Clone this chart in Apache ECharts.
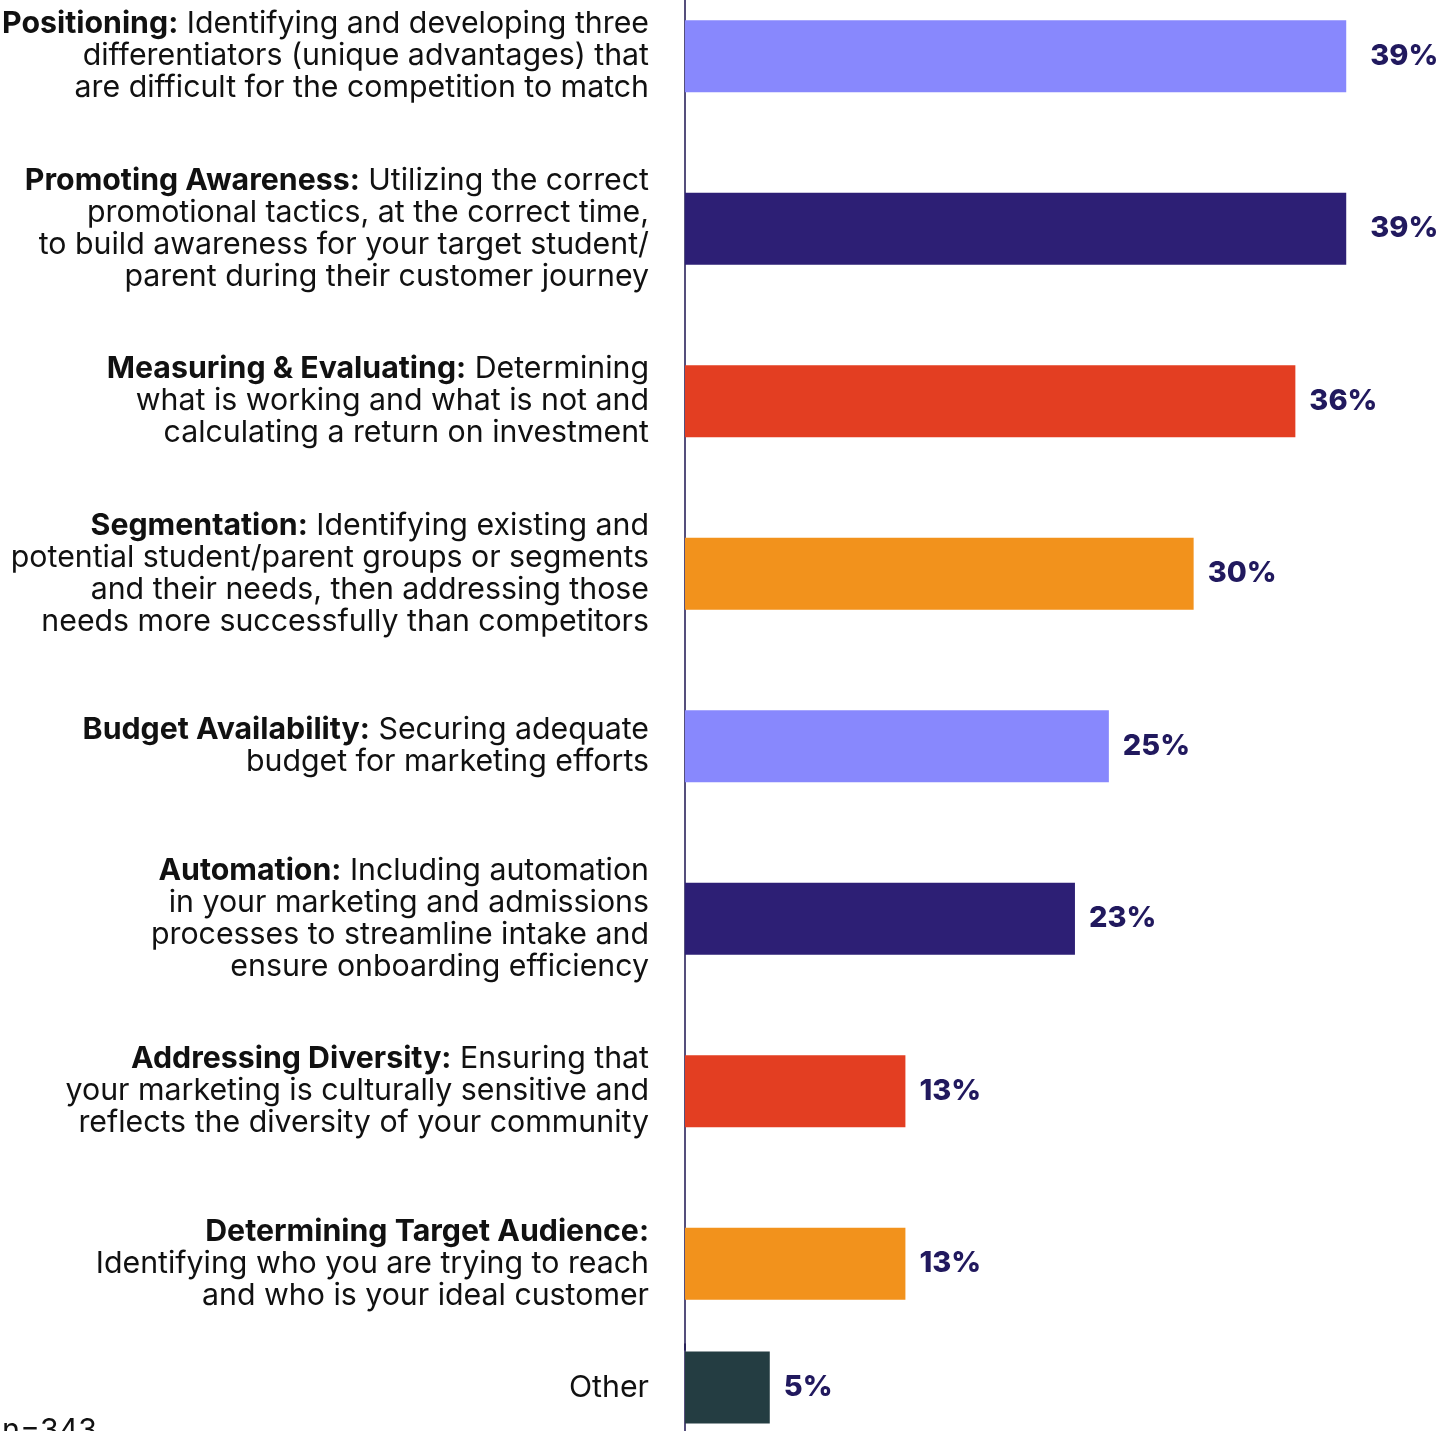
<!DOCTYPE html>
<html>
<head>
<meta charset="utf-8">
<script src="https://cdn.jsdelivr.net/npm/echarts@6/dist/echarts.min.js"></script>
<style>
  html, body { margin: 0; padding: 0; background: #ffffff; }
  #chart { width: 1440px; height: 1431px; }
</style>
</head>
<body>
<div id="chart"></div>
<script>
// Challenge headings and their descriptions (one entry per line of text)
const headings = [
  'Positioning:',
  'Promoting Awareness:',
  'Measuring & Evaluating:',
  'Segmentation:',
  'Budget Availability:',
  'Automation:',
  'Addressing Diversity:',
  'Determining Target Audience:'
];
const descriptions = [
  [' Identifying and developing three', 'differentiators (unique advantages) that', 'are difficult for the competition to match'],
  [' Utilizing the correct', 'promotional tactics, at the correct time,', 'to build awareness for your target student/', 'parent during their customer journey'],
  [' Determining', 'what is working and what is not and', 'calculating a return on investment'],
  [' Identifying existing and', 'potential student/parent groups or segments', 'and their needs, then addressing those', 'needs more successfully than competitors'],
  [' Securing adequate', 'budget for marketing efforts'],
  [' Including automation', 'in your marketing and admissions', 'processes to streamline intake and', 'ensure onboarding efficiency'],
  [' Ensuring that', 'your marketing is culturally sensitive and', 'reflects the diversity of your community'],
  ['', 'Identifying who you are trying to reach', 'and who is your ideal customer']
];
// Share of respondents (%)
const values = [39, 39, 36, 30, 25, 23, 13, 13];
const otherCategory = 'Other';
const otherValue = 5;
const palette = ['#8888fd', '#2d1f75', '#e33e22', '#f2921c'];
const otherColor = '#243d42';
const sampleNote = 'n=343';

const LABEL_FONT = 'Inter, "Liberation Sans", sans-serif';
const VALUE_FONT = 'Inter, "Liberation Sans", sans-serif';
const AXIS_COLOR = '#1c1450';
const TEXT_COLOR = '#111111';
const LABEL_SIZE = 30.3;

const categories = headings.map((h, i) => {
  const d = descriptions[i];
  const first = d[0] ? '{b|' + h + '}{n|' + d[0] + '}' : '{b|' + h + '}';
  return [first].concat(d.slice(1).map(l => '{n|' + l + '}')).join('\n');
});

const richStyles = {
  b: { fontFamily: LABEL_FONT, fontSize: LABEL_SIZE, fontWeight: 'bold', color: TEXT_COLOR, lineHeight: 32 },
  n: { fontFamily: LABEL_FONT, fontSize: LABEL_SIZE, fontWeight: 'normal', color: TEXT_COLOR, lineHeight: 32 }
};

const xMax = 44;
const valueLabel = {
  show: true,
  position: 'right',
  distance: 14,
  formatter: '{c}%',
  fontFamily: VALUE_FONT,
  fontSize: 29,
  fontWeight: 800,
  color: '#21195e'
};
// the two longest bars carry their labels a little further out
const wideGapRows = 2;

const chart = echarts.init(document.getElementById('chart'), null, { renderer: 'canvas' });
chart.setOption({
  animation: false,
  backgroundColor: '#ffffff',
  grid: [
    { left: 685, width: 746, top: -30, height: 1380, outerBoundsMode: 'none' },
    { left: 685, width: 746, top: 1344, height: 87, outerBoundsMode: 'none' }
  ],
  xAxis: [0, 1].map(g => ({
    type: 'value', gridIndex: g, min: 0, max: xMax,
    show: false
  })),
  yAxis: [
    {
      type: 'category', gridIndex: 0, inverse: true, data: categories,
      axisLine: { show: true, lineStyle: { color: AXIS_COLOR, width: 1.5 } },
      axisTick: { show: false },
      axisLabel: { margin: 36, align: 'right', rich: richStyles }
    },
    {
      type: 'category', gridIndex: 1, inverse: true, data: [otherCategory],
      axisLine: { show: true, lineStyle: { color: AXIS_COLOR, width: 1.5 } },
      axisTick: { show: false },
      axisLabel: { margin: 36, align: 'right', fontFamily: LABEL_FONT, fontSize: LABEL_SIZE, color: TEXT_COLOR }
    }
  ],
  series: [
    {
      type: 'bar', xAxisIndex: 0, yAxisIndex: 0, barWidth: 72,
      data: values.map((v, i) => {
        const item = { value: v, itemStyle: { color: palette[i % palette.length] } };
        if (i < wideGapRows) item.label = { distance: 24 };
        return item;
      }),
      label: valueLabel
    },
    {
      type: 'bar', xAxisIndex: 1, yAxisIndex: 1, barWidth: 72,
      data: [{ value: otherValue, itemStyle: { color: otherColor } }],
      label: valueLabel
    }
  ],
  graphic: [
    {
      type: 'text', left: 2, top: 1416,
      style: { text: sampleNote, font: LABEL_SIZE + 'px ' + LABEL_FONT, fill: TEXT_COLOR }
    }
  ]
});
</script>
</body>
</html>
